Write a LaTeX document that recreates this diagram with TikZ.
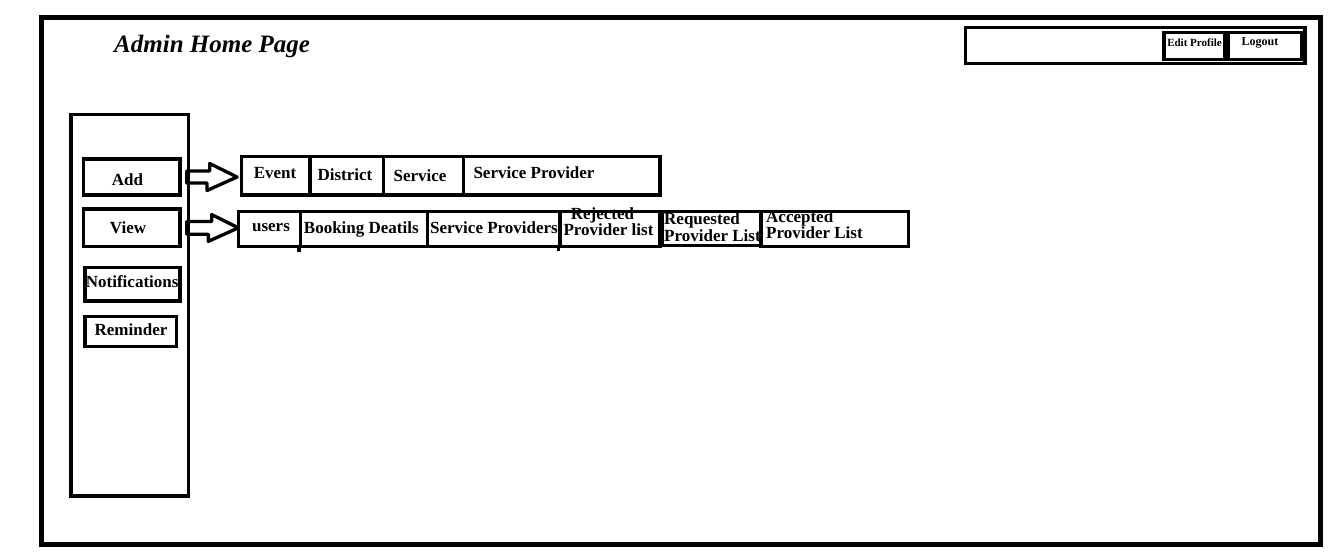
\documentclass[tikz,border=0pt]{standalone}
\usepackage{fontspec}
\setmainfont{Liberation Serif}
\begin{document}
\begin{tikzpicture}[x=1pt, y=-1pt, font=\bfseries\fontsize{17}{17}\selectfont]
%% coordinates are the pixel positions of the mock-up, y grows downwards
%% cell widths are set per node, heights come from the row styles
\tikzstyle{frame}=[draw,line width=5pt,inner sep=0pt]
\tikzstyle{box}=[draw,line width=3.3pt,inner sep=0pt]
\tikzstyle{cell}=[box,minimum height=38.3pt]
\tikzstyle{cellb}=[box,minimum height=35pt]
\tikzstyle{lbl}=[anchor=base,inner sep=0pt]
\tikzstyle{lblw}=[anchor=base west,inner sep=0pt]
\tikzstyle{blockarrow}=[line width=3.3pt,line join=round]
\tikzstyle{stub}=[line width=3.3pt]
\useasboundingbox (0,0) rectangle (1334,555);
%% page frame %%
\node[frame,minimum width=1278.5pt,minimum height=527pt] at (680.75,280.5) (page) {};
%% label for page title
\draw (114,52.7) node[lblw,font=\bfseries\itshape\fontsize{25}{25}\selectfont] (title) {Admin Home Page};
%% top bar %%
\node[box,line width=3.5pt,minimum width=339.5pt,minimum height=36pt] at (1135.25,45.5) (topbar) {};
\node[box,minimum width=60.5pt,minimum height=27.2pt] at (1194.25,46.1) (editprofile) {};
%% label for editprofile
\draw (1194.5,46.7) node[lbl,font=\bfseries\fontsize{11}{11}\selectfont] (editprofilelbl) {Edit Profile};
\node[box,minimum width=73.5pt,minimum height=27.2pt] at (1264.75,46.1) (logout) {};
%% label for logout
\draw (1260,45) node[lbl,font=\bfseries\fontsize{12}{12}\selectfont] (logoutlbl) {Logout};
%% side menu %%
\node[box,minimum width=117.3pt,minimum height=381.7pt] at (129.65,305.15) (menu) {};
\node[box,minimum width=96.7pt,minimum height=36pt] at (131.65,177) (add) {};
%% label for add
\draw (127.5,185.7) node[lbl] (addlbl) {Add};
\node[box,minimum width=96.7pt,minimum height=37.7pt] at (131.65,227.85) (view) {};
%% label for view
\draw (128,233.3) node[lbl] (viewlbl) {View};
\node[box,minimum width=95pt,minimum height=33.3pt] at (132.5,284.35) (notif) {};
%% label for notif
\draw (132.2,287.3) node[lbl] (notiflbl) {Notifications};
\node[box,minimum width=91.7pt,minimum height=30pt] at (130.85,331.7) (reminder) {};
%% label for reminder
\draw (131,335) node[lbl] (reminderlbl) {Reminder};
%% add row %%
\node[cell,minimum width=68.3pt] at (275.85,175.85) (event) {};
\draw (275,178.3) node[lbl] (eventlbl) {Event};
\node[cell,minimum width=73.3pt] at (346.65,175.85) (district) {};
\draw (345,180) node[lbl] (districtlbl) {District};
\node[cell,minimum width=80pt] at (423.3,175.85) (service) {};
\draw (420,181.7) node[lbl] (servicelbl) {Service};
\node[cell,minimum width=196.7pt] at (561.65,175.85) (provider) {};
\draw (534,178.3) node[lbl] (providerlbl) {Service Provider};
%% view row %%
\node[cellb,minimum width=62.2pt] at (269.4,229) (users) {};
\draw (271,231) node[lbl] (userslbl) {users};
\node[cellb,minimum width=127pt] at (364,229) (booking) {};
\draw (361.3,233.3) node[lbl] (bookinglbl) {Booking Deatils};
\node[cellb,minimum width=132.5pt] at (493.75,229) (providers) {};
\draw (494,233.3) node[lbl] (providerslbl) {Service Providers};
\node[cellb,minimum width=100pt] at (610,229) (rejected) {};
\draw (602.5,219) node[lbl] (rejectedlbl) {Rejected};
\draw (608.5,235) node[lbl] (rejectedlblb) {Provider list};
\node[cellb,minimum width=99pt,minimum height=34pt] at (711.5,228.5) (requested) {};
\draw (664,224) node[lblw] (requestedlbl) {Requested};
\draw (664,241.5) node[lblw] (requestedlblb) {Provider List};
\node[cellb,minimum width=147.3pt] at (834.65,229) (accepted) {};
\draw (766,222) node[lblw] (acceptedlbl) {Accepted};
\draw (766,238) node[lblw] (acceptedlblb) {Provider List};
\draw[stub] (booking.south west) -- ++(0,3.5);
\draw[stub] (rejected.south west) -- ++(0,2.5);
%% arrows from menu items to their rows %%
\draw[blockarrow] (add.east) ++(5,-6) -- ++(23,0) -- ++(0,-7.5) -- ([xshift=-3pt]event.west |- add.east) -- ++(-30,13.5) -- ++(0,-7.5) -- ([xshift=5pt,yshift=-6pt]add.east) -- cycle;
\draw[blockarrow] (view.east) ++(5,-6.3) -- ++(25,0) -- ++(0,-7) -- ([xshift=1.7pt]users.west |- view.east) -- ++(-30,13.5) -- ++(0,-7) -- ([xshift=5pt,yshift=-6.3pt]view.east) -- cycle;
\end{tikzpicture}
\end{document}
